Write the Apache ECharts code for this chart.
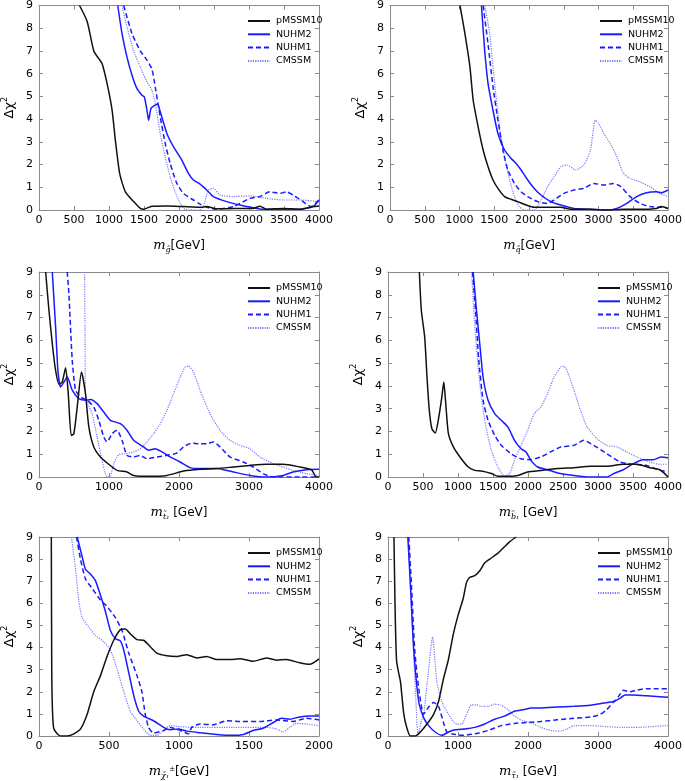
<!DOCTYPE html>
<html>
<head>
<meta charset="utf-8">
<script src="https://cdn.jsdelivr.net/npm/echarts@6/dist/echarts.min.js"></script>
<style>
  html, body { margin: 0; padding: 0; background: #fff; }
  #chart { width: 685px; height: 781px; }
</style>
</head>
<body>
<div id="chart"></div>
<script>
// model names, in legend order
var models = ["pMSSM10", "NUHM2", "NUHM1", "CMSSM"];

// y axis: delta chi^2
var yTicks = [0, 1, 2, 3, 4, 5, 6, 7, 8, 9];

// x axis ranges / tick steps per panel
var xMax = [4000, 4000, 4000, 4000, 2000, 4000];
var xStep = [500, 500, 1000, 500, 500, 1000];

// panel 1: gluino mass
var gluinoPMSSM10 = [[579,9],[688,8.3],[783,7.0],[854,6.66],[902,6.44],[973,5.56],[1044,4.4],[1091,3.07],[1153,1.6],[1234,0.8],[1352,0.37],[1447,0.07],[1495,0.03],[1613,0.17],[1827,0.18],[2064,0.15],[2301,0.12],[2396,0.15],[2538,0.05],[2776,0.07],[3060,0.07],[3155,0.17],[3250,0.03],[3488,0.07],[3725,0.03],[3915,0.15],[4000,0.18]];
var gluinoNUHM2 = [[1125,9],[1186,7.76],[1257,6.73],[1329,5.93],[1400,5.34],[1471,5.05],[1504,4.98],[1542,4.4],[1566,3.95],[1599,4.47],[1637,4.57],[1694,4.66],[1732,4.32],[1827,3.37],[1922,2.78],[2040,2.2],[2135,1.61],[2206,1.32],[2301,1.14],[2396,0.88],[2491,0.59],[2681,0.37],[2871,0.22],[3108,0.07],[3250,0.03],[3488,0.03],[3725,0.03],[3915,0.15],[4000,0.44]];
var gluinoNUHM1 = [[1210,9],[1329,7.76],[1447,7.0],[1542,6.6],[1613,6.2],[1661,5.4],[1732,4.1],[1803,2.93],[1874,2.05],[1969,1.17],[2064,0.73],[2206,0.44],[2301,0.26],[2396,0.12],[2538,0.03],[2776,0.15],[2871,0.29],[3013,0.51],[3155,0.59],[3298,0.8],[3440,0.73],[3535,0.8],[3630,0.66],[3772,0.37],[3891,0.15],[4000,0.44]];
var gluinoCMSSM = [[1186,9],[1257,8.05],[1352,7.0],[1447,6.3],[1542,5.64],[1613,5.27],[1661,4.69],[1732,3.37],[1803,2.34],[1874,1.46],[1945,0.8],[2017,0.29],[2088,0.03],[2301,0],[2348,0.15],[2420,0.88],[2491,0.95],[2586,0.66],[2776,0.59],[3013,0.62],[3250,0.51],[3488,0.44],[3725,0.44],[4000,0.37]];

// panel 2: squark mass
var squarkPMSSM10 = [[1007,9],[1078,7.76],[1150,6.3],[1197,4.83],[1268,3.66],[1340,2.64],[1411,1.9],[1482,1.32],[1553,0.95],[1648,0.59],[1743,0.47],[1838,0.37],[1957,0.22],[2076,0.12],[2171,0.12],[2314,0.12],[2456,0.12],[2599,0.03],[2884,0.03],[3121,0],[3359,0.03],[3596,0.03],[3834,0.07],[3905,0.15],[4000,0.07]];
var squarkNUHM2 = [[1316,9],[1363,7.0],[1411,5.56],[1482,4.39],[1553,3.37],[1648,2.64],[1743,2.27],[1815,2.05],[1886,1.76],[1981,1.32],[2076,0.95],[2171,0.66],[2314,0.37],[2456,0.22],[2646,0.07],[2884,0.03],[3121,0],[3264,0.07],[3406,0.29],[3549,0.59],[3691,0.76],[3834,0.8],[3905,0.76],[4000,0.88]];
var squarkNUHM1 = [[1340,9],[1411,7.3],[1482,5.42],[1553,3.95],[1625,2.64],[1696,1.76],[1791,1.17],[1886,0.8],[1981,0.59],[2124,0.37],[2266,0.29],[2361,0.44],[2504,0.73],[2646,0.88],[2789,0.95],[2931,1.17],[3074,1.1],[3216,1.17],[3311,1.05],[3454,0.59],[3596,0.29],[3739,0.15],[3905,0.12],[4000,0.07]];
var squarkCMSSM = [[1363,9],[1435,7.76],[1506,5.56],[1577,3.66],[1648,2.34],[1720,1.32],[1791,0.59],[1862,0.15],[1933,0],[2076,0],[2147,0.29],[2266,1.02],[2361,1.46],[2456,1.9],[2551,1.98],[2670,1.76],[2789,1.98],[2884,2.64],[2955,3.95],[3002,3.81],[3074,3.37],[3169,2.93],[3264,2.34],[3359,1.61],[3454,1.39],[3596,1.24],[3739,1.02],[3881,0.73],[4000,0.59]];

// panel 3: stop mass
var stopPMSSM10 = [[95,9],[142,7.32],[190,5.85],[237,4.68],[285,4.07],[332,4.17],[380,4.8],[418,3.66],[460,1.83],[498,1.9],[546,3.07],[607,4.61],[664,3.66],[712,2.2],[783,1.32],[878,0.88],[996,0.56],[1115,0.29],[1257,0.22],[1352,0.07],[1590,0.03],[1827,0.07],[2064,0.26],[2301,0.34],[2538,0.37],[2776,0.44],[3013,0.51],[3250,0.56],[3488,0.56],[3725,0.44],[3891,0.32],[3962,0],[4000,0]];
var stopNUHM2 = [[190,9],[237,6.59],[270,4.68],[308,3.95],[356,4.17],[403,4.39],[475,3.81],[569,3.44],[664,3.37],[735,3.4],[830,3.22],[925,2.85],[1020,2.49],[1162,2.34],[1257,2.05],[1352,1.61],[1494,1.32],[1566,1.17],[1661,1.24],[1756,1.1],[1874,0.88],[2017,0.66],[2159,0.41],[2301,0.37],[2538,0.37],[2776,0.22],[3013,0.07],[3250,0],[3488,0.07],[3630,0.22],[3820,0.32],[4000,0.34]];
var stopNUHM1 = [[403,9],[427,8.05],[475,5.12],[522,3.81],[593,3.51],[688,3.37],[783,3.07],[854,2.49],[925,1.76],[973,1.54],[1044,1.9],[1115,2.05],[1186,1.61],[1257,0.95],[1352,0.88],[1447,0.95],[1542,0.8],[1684,0.88],[1827,0.95],[1969,1.05],[2064,1.32],[2183,1.49],[2301,1.46],[2396,1.46],[2491,1.54],[2586,1.32],[2728,0.88],[2918,0.66],[3061,0.44],[3203,0.15],[3345,0],[3725,0],[4000,0]];
var stopCMSSM = [[652,9],[658,6],[664,3.66],[698,3.22],[759,2.78],[830,1.76],[901,0.73],[949,0.15],[982,0],[1020,0.03],[1068,0.59],[1139,0.98],[1234,1.02],[1352,1.1],[1447,1.24],[1542,1.54],[1637,1.9],[1732,2.34],[1827,2.93],[1922,3.66],[2017,4.39],[2088,4.83],[2135,4.87],[2206,4.61],[2301,3.81],[2443,2.78],[2586,2.05],[2728,1.61],[2871,1.39],[3013,1.24],[3155,0.88],[3345,0.59],[3488,0.44],[3630,0.29],[3820,0.15],[4000,0.07]];

// panel 4: sbottom mass
var sbottomPMSSM10 = [[448,9],[476,7.32],[524,6.15],[557,4.39],[590,2.93],[627,2.12],[675,1.93],[722,2.56],[769,3.51],[797,4.17],[825,3.22],[863,1.9],[934,1.32],[1028,0.88],[1146,0.44],[1241,0.29],[1335,0.26],[1476,0.15],[1571,0.03],[1712,0.03],[1854,0.07],[1995,0.22],[2184,0.29],[2420,0.37],[2656,0.41],[2892,0.47],[3127,0.47],[3363,0.56],[3552,0.56],[3741,0.41],[3882,0.32],[3953,0.15],[4000,0]];
var sbottomNUHM2 = [[1217,9],[1264,7.32],[1311,5.85],[1358,4.39],[1429,3.37],[1524,2.78],[1618,2.49],[1712,2.2],[1807,1.61],[1901,1.24],[1972,1.1],[2042,0.73],[2137,0.44],[2278,0.32],[2420,0.18],[2656,0.07],[2892,0],[3127,0],[3222,0.15],[3363,0.32],[3505,0.59],[3646,0.76],[3788,0.76],[3906,0.88],[4000,0.85]];
var sbottomNUHM1 = [[1208,9],[1250,7.32],[1297,5.12],[1358,3.37],[1429,2.49],[1524,1.83],[1618,1.39],[1759,1.02],[1901,0.8],[2042,0.76],[2184,0.88],[2325,1.1],[2467,1.32],[2656,1.39],[2797,1.61],[2939,1.39],[3127,1.02],[3316,0.66],[3505,0.56],[3693,0.51],[3882,0.29],[4000,0.26]];
var sbottomCMSSM = [[1193,9],[1241,6.59],[1311,4.1],[1382,2.49],[1476,1.17],[1571,0.44],[1665,0.03],[1736,0.15],[1807,0.73],[1901,1.39],[1995,2.05],[2090,2.78],[2184,3.07],[2278,3.66],[2373,4.39],[2467,4.83],[2514,4.86],[2585,4.46],[2656,3.81],[2750,2.93],[2844,2.2],[2986,1.68],[3127,1.39],[3269,1.32],[3410,1.1],[3552,0.88],[3741,0.66],[3882,0.56],[4000,0.56]];

// panel 5: chargino mass
var charginoPMSSM10 = [[88,9],[91,3],[96,1.2],[105,0.35],[130,0.1],[154,0],[202,0],[249,0.1],[297,0.32],[344,0.98],[391,2.0],[439,2.73],[486,3.6],[534,4.33],[581,4.81],[617,4.84],[652,4.62],[700,4.36],[747,4.33],[795,4.04],[842,3.75],[913,3.63],[985,3.6],[1056,3.68],[1127,3.53],[1198,3.6],[1269,3.46],[1364,3.46],[1435,3.49],[1530,3.38],[1625,3.53],[1696,3.43],[1767,3.46],[1862,3.31],[1934,3.24],[2000,3.49]];
var charginoNUHM2 = [[273,9],[308,8.12],[332,7.54],[368,7.32],[403,7.03],[439,6.37],[474,5.64],[510,4.77],[546,4.4],[581,4.3],[605,3.89],[641,2.87],[676,1.85],[712,1.12],[747,0.9],[818,0.69],[890,0.39],[937,0.28],[996,0.32],[1056,0.22],[1151,0.15],[1269,0.07],[1388,0.03],[1459,0.07],[1530,0.25],[1601,0.35],[1673,0.61],[1732,0.8],[1791,0.76],[1862,0.86],[1934,0.9],[2000,0.9]];
var charginoNUHM1 = [[268,9],[297,7.98],[332,7.1],[380,6.67],[439,6.15],[486,5.86],[546,5.35],[593,4.77],[641,3.75],[700,2.73],[735,2.0],[759,0.98],[783,0.39],[818,0.13],[890,0.25],[937,0.39],[1008,0.25],[1068,0.1],[1091,0.39],[1151,0.54],[1245,0.51],[1340,0.69],[1435,0.66],[1578,0.66],[1696,0.72],[1815,0.66],[1910,0.8],[2000,0.72]];
var charginoCMSSM = [[232,9],[261,7.54],[285,6.08],[308,5.35],[356,4.92],[403,4.55],[463,4.26],[510,3.89],[558,3.02],[605,2.0],[652,1.12],[700,0.69],[747,0.32],[795,0.03],[842,0.03],[890,0.25],[937,0.47],[1008,0.42],[1151,0.39],[1388,0.39],[1625,0.39],[1696,0.32],[1744,0.18],[1791,0.39],[1839,0.57],[1910,0.54],[2000,0.47]];

// panel 6: stau mass
var stauPMSSM10 = [[85,9],[100,6],[110,4.5],[123,3.38],[150,2.9],[179,2.44],[226,0.98],[274,0.32],[321,0],[392,0],[462,0.18],[557,0.54],[651,0.98],[722,1.56],[792,2.58],[863,3.46],[934,4.62],[1005,5.5],[1075,6.23],[1123,6.96],[1170,7.18],[1241,7.25],[1311,7.47],[1382,7.83],[1476,8.05],[1571,8.27],[1665,8.56],[1736,8.78],[1830,9]];
var stauNUHM2 = [[283,9],[321,6.81],[368,3.89],[439,1.56],[509,0.83],[580,0.47],[675,0.18],[769,0.03],[863,0.18],[958,0.28],[1099,0.32],[1241,0.39],[1382,0.54],[1524,0.76],[1665,0.9],[1807,1.12],[1948,1.2],[2042,1.27],[2184,1.27],[2420,1.31],[2656,1.34],[2892,1.39],[3080,1.49],[3222,1.56],[3316,1.71],[3387,1.85],[3505,1.85],[3693,1.82],[3882,1.78],[4000,1.75]];
var stauNUHM1 = [[297,9],[335,6.81],[382,3.89],[439,2.14],[509,0.98],[571,1.27],[651,1.52],[722,1.34],[792,0.61],[840,0.18],[910,0.1],[1052,0.03],[1241,0.1],[1429,0.25],[1618,0.47],[1807,0.57],[1995,0.61],[2184,0.66],[2420,0.73],[2656,0.8],[2892,0.86],[3033,0.98],[3127,1.2],[3222,1.53],[3292,1.78],[3363,2.07],[3458,2.0],[3552,2.07],[3693,2.14],[3835,2.14],[4000,2.14]];
var stauCMSSM = [[290,9],[330,6],[370,3.5],[400,1.5],[429,0.05],[470,0.6],[509,0.98],[571,2.73],[637,4.48],[698,2.44],[769,1.56],[863,0.98],[981,0.54],[1052,0.54],[1123,0.98],[1193,1.41],[1264,1.41],[1335,1.34],[1429,1.34],[1524,1.44],[1618,1.39],[1712,1.2],[1807,0.9],[1925,0.69],[2042,0.61],[2184,0.39],[2325,0.25],[2467,0.22],[2561,0.32],[2656,0.47],[2892,0.47],[3127,0.42],[3363,0.39],[3599,0.39],[3835,0.44],[4000,0.47]];

var panelData = [
  [gluinoPMSSM10, gluinoNUHM2, gluinoNUHM1, gluinoCMSSM],
  [squarkPMSSM10, squarkNUHM2, squarkNUHM1, squarkCMSSM],
  [stopPMSSM10, stopNUHM2, stopNUHM1, stopCMSSM],
  [sbottomPMSSM10, sbottomNUHM2, sbottomNUHM1, sbottomCMSSM],
  [charginoPMSSM10, charginoNUHM2, charginoNUHM1, charginoCMSSM],
  [stauPMSSM10, stauNUHM2, stauNUHM1, stauCMSSM]
];

// x axis titles (rich text)
var xNames = [
  "{m|m}{s|g̃}{u|[GeV]}",
  "{m|m}{s|q̃}{u|[GeV]}",
  "{m|m}{s|t̃₁}{u| [GeV]}",
  "{m|m}{s|b̃₁}{u| [GeV]}",
  "{m|m}{s|χ̃₁}{p|±}{u|[GeV]}",
  "{m|m}{s|τ̃₁}{u| [GeV]}"
];

var grids = [
  { left: 38, top: 5, width: 281, height: 205 },
  { left: 390, top: 5, width: 280, height: 205 },
  { left: 38, top: 272, width: 281, height: 205 },
  { left: 388, top: 272, width: 282, height: 205 },
  { left: 38, top: 537, width: 281, height: 205 },
  { left: 388, top: 537, width: 282, height: 205 }
];

var frameColor = "#8a8a8a";
var styles = {
  pMSSM10: { color: "#111111", width: 1.5, type: "solid" },
  NUHM2: { color: "#1a1aff", width: 1.5, type: "solid" },
  NUHM1: { color: "#1a1aff", width: 1.5, type: [5, 3] },
  CMSSM: { color: "#7777ff", width: 1.2, type: [1.2, 1.2] }
};

var xAxes = [], yAxes = [], series = [], legends = [];

grids.forEach(function (g, i) {
  var tickOnly = {
    show: true, axisLine: { show: true, onZero: false, lineStyle: { color: frameColor } },
    axisTick: { inside: true, length: 4, lineStyle: { color: frameColor } },
    axisLabel: { show: false }, splitLine: { show: false }
  };
  xAxes.push({
    type: "value", gridIndex: i, min: 0, max: xMax[i], interval: xStep[i],
    position: "bottom",
    axisLine: { onZero: false, lineStyle: { color: frameColor } },
    axisTick: { inside: true, length: 4, lineStyle: { color: frameColor } },
    axisLabel: { color: "#000", fontSize: 11, fontFamily: "DejaVu Sans", margin: 5,
      formatter: function (v) { return String(v); } },
    splitLine: { show: false },
    name: xNames[i], nameLocation: "middle", nameGap: 27,
    nameTextStyle: {
      rich: {
        m: { fontFamily: "DejaVu Serif", fontStyle: "italic", fontSize: 13, color: "#000" },
        s: { fontFamily: "DejaVu Serif", fontStyle: "italic", fontSize: 8, color: "#000", padding: [9, 0, 0, 0] },
        p: { fontFamily: "DejaVu Sans", fontSize: 7, color: "#000", padding: [0, 0, 4, 0] },
        u: { fontFamily: "DejaVu Sans", fontSize: 12, color: "#000" }
      }
    }
  });
  xAxes.push(Object.assign({ type: "value", gridIndex: i, min: 0, max: xMax[i], interval: xStep[i], position: "top" }, tickOnly));
  yAxes.push({
    type: "value", gridIndex: i, min: 0, max: 9, interval: 1,
    position: "left",
    axisLine: { show: true, lineStyle: { color: frameColor } },
    axisTick: { inside: true, length: 4, lineStyle: { color: frameColor } },
    axisLabel: { color: "#000", fontSize: 11, fontFamily: "DejaVu Sans", margin: 6,
      formatter: function (v) { return yTicks.indexOf(v) >= 0 ? String(v) : ""; } },
    splitLine: { show: false },
    name: "{a|Δχ}{b|2}", nameLocation: "middle", nameGap: 21, nameRotate: 90,
    nameTextStyle: {
      rich: {
        a: { fontFamily: "DejaVu Sans", fontSize: 13, color: "#000" },
        b: { fontFamily: "DejaVu Sans", fontSize: 8, color: "#000", padding: [0, 0, 9, 0] }
      }
    }
  });
  yAxes.push(Object.assign({ type: "value", gridIndex: i, min: 0, max: 9, interval: 1, position: "right" }, tickOnly));

  models.forEach(function (m, k) {
    var st = styles[m];
    series.push({
      name: m, type: "line", xAxisIndex: 2 * i, yAxisIndex: 2 * i,
      data: panelData[i][k], showSymbol: false, symbol: "none",
      smooth: 0.2, clip: true, animation: false,
      lineStyle: { color: st.color, width: st.width, type: st.type },
      itemStyle: { color: st.color },
      z: 10 - k
    });
  });

  // legend: line sample only, no marker
  legends.push({
    data: models, orient: "vertical", selectedMode: false,
    left: g.left + 204, top: g.top + 6,
    itemWidth: 22, itemHeight: 10, itemGap: 3.3,
    itemStyle: { opacity: 0 },
    textStyle: { fontSize: 9.5, fontFamily: "DejaVu Sans", color: "#000", padding: [0, 0, 0, 1] }
  });
});

var chart = echarts.init(document.getElementById("chart"), null, { renderer: "canvas" });
chart.setOption({
  backgroundColor: "#fff",
  animation: false,
  grid: grids.map(function (g) { return Object.assign({ show: false }, g); }),
  xAxis: xAxes,
  yAxis: yAxes,
  legend: legends,
  series: series
});
</script>
</body>
</html>
